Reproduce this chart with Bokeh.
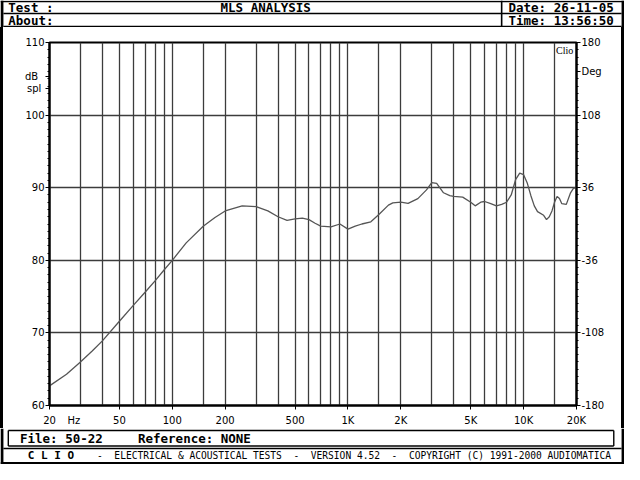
from bokeh.plotting import figure
from bokeh.models import FixedTicker, LinearAxis, Range1d, Label, Div
from bokeh.layouts import row, column
from bokeh.embed import file_html
from bokeh.resources import INLINE
from bokeh.core.properties import value

# ---------------- data ----------------
freq_hz = [20, 25, 30, 35, 40, 50, 60, 70, 80, 90, 100, 120, 150, 175, 200, 250, 300,
           350, 400, 450, 500, 550, 600, 650, 700, 800, 900, 1000, 1100, 1200, 1350,
           1500, 1700, 1800, 2000, 2200, 2500, 2800, 3000, 3200, 3500, 3800, 4000,
           4500, 5000, 5300, 5700, 6000, 6500, 7000, 7500, 8000, 8500, 9000, 9500,
           10000, 10500, 11000, 11500, 12000, 13000, 13500, 14000, 14500, 15000,
           15500, 16000, 16500, 17500, 18500, 19200, 20000]
spl_db = [62.7, 64.3, 66.0, 67.5, 68.9, 71.6, 73.8, 75.6, 77.2, 78.7, 80.0, 82.4, 84.7,
          85.9, 86.8, 87.5, 87.4, 86.8, 86.0, 85.5, 85.7, 85.8, 85.6, 85.1, 84.7,
          84.6, 85.0, 84.3, 84.7, 85.0, 85.3, 86.3, 87.6, 87.9, 88.0, 87.85, 88.5,
          89.7, 90.7, 90.6, 89.3, 88.9, 88.8, 88.7, 88.0, 87.5, 88.0, 88.1, 87.8,
          87.5, 87.7, 88.0, 89.0, 91.1, 92.0, 91.8, 90.6, 88.9, 87.5, 86.7, 86.2,
          85.6, 86.0, 86.8, 88.0, 88.8, 88.5, 87.8, 87.7, 89.3, 89.9, 90.0]

x_ticks = [20, 50, 100, 200, 500, 1000, 2000, 5000, 10000, 20000]
x_tick_labels = ["20", "50", "100", "200", "500", "1K", "2K", "5K", "10K", "20K"]
x_unit_pos, x_unit_label = 27.5, "Hz"
x_grid = [30, 40, 50, 60, 70, 80, 90, 100, 150, 200, 300, 400, 500, 600, 700, 800,
          900, 1000, 1500, 2000, 3000, 4000, 5000, 6000, 7000, 8000, 9000, 10000, 15000]
db_ticks = [60, 70, 80, 90, 100, 110]
db_grid = [70, 80, 90, 100]
db_unit_pos = [105.3, 103.7]
db_unit_labels = ["dB\u00a0\u00a0", "spl\u00a0"]
deg_ticks = [-180, -108, -36, 36, 108, 180]
deg_unit_pos, deg_unit_label = 151.2, "Deg"

NB2 = "\u00a0\u00a0"
header_left = ["Test :", "About:"]
header_title = "MLS ANALYSIS"
header_right = ["Date: 26-11-05", "Time: 13:56:50"]
file_text = "File: 50-22"
ref_text = "Reference: NONE"
clio_text = "C L I O"
footer_text = ("-" + NB2 + "ELECTRICAL & ACOUSTICAL TESTS" + NB2 + "-" + NB2 +
               "VERSION 4.52" + NB2 + "-" + NB2 + "COPYRIGHT (C) 1991-2000 AUDIOMATICA")

MONO = value("DejaVu Sans Mono")
GRID = "#3c3c3c"

# ---------------- main plot ----------------
p = figure(width=618, height=401, x_axis_type="log", x_range=Range1d(20, 20000),
           y_range=Range1d(60, 110), output_backend="svg", toolbar_location=None,
           min_border_left=46, min_border_right=45, min_border_top=15,
           min_border_bottom=19, background_fill_color="white",
           border_fill_color="white")
p.extra_y_ranges = {"deg": Range1d(-180, 180)}

p.outline_line_color = "black"
p.outline_line_width = 2

xa = p.xaxis[0]
xa.ticker = FixedTicker(ticks=x_ticks + [x_unit_pos], minor_ticks=x_ticks)
xo = {t: l for t, l in zip(x_ticks, x_tick_labels)}
xo[x_unit_pos] = x_unit_label
xa.major_label_overrides = xo

ya = p.yaxis[0]
ya.ticker = FixedTicker(ticks=db_ticks + db_unit_pos, minor_ticks=list(range(60, 111)))
yo = {t: str(t) for t in db_ticks}
for t, l in zip(db_unit_pos, db_unit_labels):
    yo[t] = l
ya.major_label_overrides = yo

ra = LinearAxis(y_range_name="deg",
                ticker=FixedTicker(ticks=deg_ticks + [deg_unit_pos],
                                   minor_ticks=[-180 + 7.2 * i for i in range(51)]))
ro = {t: str(t) for t in deg_ticks}
ro[deg_unit_pos] = deg_unit_label
ra.major_label_overrides = ro
p.add_layout(ra, "right")

for ax in (xa, ya, ra):
    ax.axis_line_color = "black"
    ax.axis_line_width = 2
    ax.major_tick_line_color = "black"
    ax.minor_tick_line_color = "black"
    ax.major_tick_out = 4
    ax.major_tick_in = 0
    ax.minor_tick_out = 2
    ax.minor_tick_in = 0
    ax.major_label_text_font = "DejaVu Sans"
    ax.major_label_text_font_size = "10px"
    ax.major_label_text_color = "black"
    ax.major_label_standoff = 1
# x axis: marks only at labelled frequencies (drawn as minor ticks)
xa.major_tick_out = 0
xa.minor_tick_out = 4
xa.major_label_standoff = 5

p.xgrid[0].ticker = FixedTicker(ticks=x_grid)
p.ygrid[0].ticker = FixedTicker(ticks=db_grid)
for g in (p.xgrid[0], p.ygrid[0]):
    g.grid_line_color = GRID
    g.grid_line_width = 1.3
    g.grid_line_alpha = 1.0

p.line(freq_hz, spl_db, line_color="#555555", line_width=1.3)

p.add_layout(Label(x=15300, y=109.7, text="Clio", text_align="left",
                   text_baseline="top", text_font="Liberation Serif",
                   text_font_size="10px", text_color="black"))

# ---------------- header ----------------
h = figure(width=624, height=27, x_range=Range1d(0, 640), y_range=Range1d(28, 0),
           output_backend="svg", toolbar_location=None, min_border=0,
           x_axis_location=None, y_axis_location=None)
h.grid.visible = False
h.outline_line_color = None
h.quad(left=[0, 637], right=[3, 640], top=[0, 0], bottom=[28, 28],
       fill_color="black", line_color=None)
h.segment(x0=[0, 3, 3, 514], y0=[1, 13.5, 27, 0], x1=[640, 637, 637, 514],
          y1=[1, 13.5, 27, 27], line_color="black", line_width=1.6)
h.text(x=[8, 8], y=[7, 20.5], text=header_left, text_font=MONO,
       text_font_style="bold", text_font_size="12.5px", text_baseline="middle")
h.text(x=[521, 521], y=[7, 20.5], text=header_right, text_font=MONO,
       text_font_style="bold", text_font_size="12.5px", text_baseline="middle")
h.text(x=[272], y=[7], text=[header_title], text_font=MONO, text_align="center",
       text_font_style="bold", text_font_size="12.5px", text_baseline="middle")

# ---------------- footer ----------------
f = figure(width=624, height=36, x_range=Range1d(0, 640), y_range=Range1d(480, 443),
           output_backend="svg", toolbar_location=None, min_border=0,
           x_axis_location=None, y_axis_location=None)
f.grid.visible = False
f.outline_line_color = None
f.quad(left=[0, 637, 0], right=[3, 640, 640], top=[443, 443, 477.5],
       bottom=[480, 480, 480], fill_color="black", line_color=None)
f.segment(x0=[8, 8, 8, 629, 3], y0=[445, 461, 445, 445, 463.5],
          x1=[629, 629, 8, 629, 637], y1=[445, 461, 461, 461, 463.5],
          line_color="black", line_width=1.4)
f.text(x=[20, 141], y=[453, 453], text=[file_text, ref_text], text_font=MONO,
       text_font_style="bold", text_font_size="12.5px", text_baseline="middle")
f.text(x=[28], y=[471], text=[clio_text], text_font=MONO, text_font_style="bold",
       text_font_size="11px", text_baseline="middle")
f.text(x=[99], y=[471], text=[footer_text], text_font=MONO,
       text_font_size="9.6px", text_baseline="middle")

strip_html = '<div style="width:3px;height:401px;background:#000;"></div>'
left_strip = Div(text=strip_html, width=3, height=401, margin=0,
                 styles={"background-color": "black"})
right_strip = Div(text=strip_html, width=3, height=401, margin=0,
                  styles={"background-color": "black"})

layout = column(row(h), row(left_strip, p, right_strip, spacing=0), row(f), spacing=0)

open("out.html", "w").write(file_html(layout, INLINE))
